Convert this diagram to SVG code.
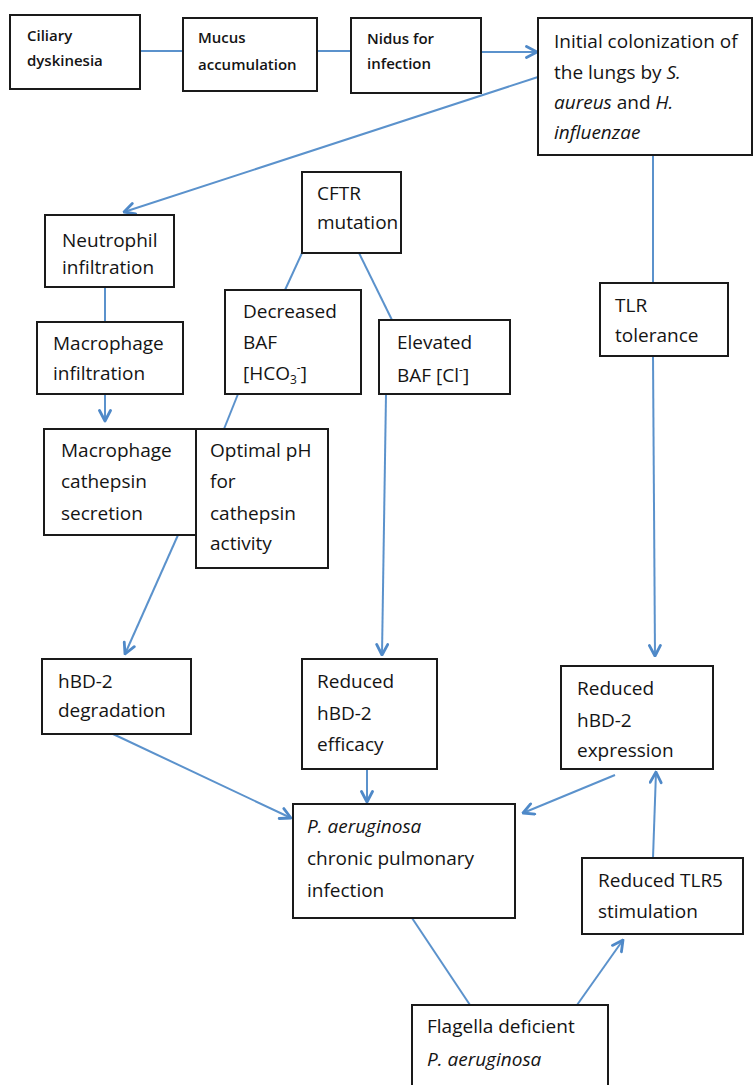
<svg xmlns="http://www.w3.org/2000/svg" width="755" height="1085" viewBox="0 0 755 1085">
<style>
.box{fill:#fff;stroke:#1a1a1a;stroke-width:2}
.t{font-family:"Open Sans","Noto Sans",sans-serif;font-size:19px;fill:#141414}
.s{font-family:"Open Sans","Noto Sans",sans-serif;font-size:15px;font-weight:600;fill:#141414}
.i{font-style:italic}
.c{fill:none;stroke:#5b92cc;stroke-width:2}
.a{fill:none;stroke:#5b92cc;stroke-width:2;marker-end:url(#ah)}
</style>
<defs>
<marker id="ah" viewBox="0 0 14 14" refX="12.5" refY="7" markerWidth="14" markerHeight="14" orient="auto" markerUnits="userSpaceOnUse">
<path d="M2,1.5 L12.5,7 L2,12.5" fill="none" stroke="#4f89c8" stroke-width="2.8" stroke-linecap="round" stroke-linejoin="round"/>
</marker>
</defs>
<rect width="755" height="1085" fill="#fff"/>
<g id="connectors">
<line class="c" x1="140" y1="51" x2="183" y2="51"/>
<line class="c" x1="317" y1="51" x2="351" y2="51"/>
<line class="a" x1="481" y1="52" x2="537" y2="52"/>
<line class="a" x1="538" y1="77" x2="124" y2="212"/>
<line class="c" x1="653" y1="155" x2="653" y2="283"/>
<line class="a" x1="653" y1="356" x2="655" y2="656"/>
<line class="c" x1="105" y1="287" x2="105" y2="322"/>
<line class="a" x1="105" y1="394" x2="105" y2="421"/>
<line class="c" x1="302" y1="253" x2="285" y2="290"/>
<line class="c" x1="359" y1="253" x2="392" y2="320"/>
<line class="c" x1="238" y1="394" x2="224" y2="429"/>
<line class="a" x1="386" y1="394" x2="382" y2="655"/>
<line class="a" x1="178" y1="535" x2="125" y2="654"/>
<line class="a" x1="113" y1="734" x2="291" y2="818"/>
<line class="a" x1="367" y1="769" x2="367" y2="802"/>
<line class="a" x1="615" y1="775" x2="523" y2="813"/>
<line class="a" x1="653" y1="858" x2="656" y2="772"/>
<line class="c" x1="412" y1="918" x2="470" y2="1005"/>
<line class="a" x1="577" y1="1005" x2="623" y2="940"/>
</g>
<g id="ciliary">
<rect class="box" x="10" y="15" width="130" height="74"/>
<text class="s" x="27" y="41">Ciliary</text>
<text class="s" x="27" y="66">dyskinesia</text>
</g>
<g id="mucus">
<rect class="box" x="183" y="18" width="134" height="73"/>
<text class="s" x="198" y="43">Mucus</text>
<text class="s" x="198" y="70">accumulation</text>
</g>
<g id="nidus">
<rect class="box" x="351" y="18" width="130" height="75"/>
<text class="s" x="367" y="44">Nidus for</text>
<text class="s" x="367" y="69">infection</text>
</g>
<g id="initial">
<rect class="box" x="538" y="18" width="214" height="137"/>
<text class="t" x="554" y="48">Initial colonization of</text>
<text class="t" x="554" y="79">the lungs by <tspan class="i">S.</tspan></text>
<text class="t" x="554" y="109"><tspan class="i">aureus</tspan> and <tspan class="i">H.</tspan></text>
<text class="t" x="554" y="139"><tspan class="i">influenzae</tspan></text>
</g>
<g id="cftr">
<rect class="box" x="302" y="172" width="99" height="81"/>
<text class="t" x="317" y="200">CFTR</text>
<text class="t" x="317" y="229">mutation</text>
</g>
<g id="neutrophil">
<rect class="box" x="45" y="215" width="129" height="72"/>
<text class="t" x="62" y="247">Neutrophil</text>
<text class="t" x="62" y="274">infiltration</text>
</g>
<g id="tlr">
<rect class="box" x="600" y="283" width="128" height="73"/>
<text class="t" x="615" y="312">TLR</text>
<text class="t" x="615" y="342">tolerance</text>
</g>
<g id="decreased">
<rect class="box" x="225" y="290" width="136" height="104"/>
<text class="t" x="243" y="318">Decreased</text>
<text class="t" x="243" y="349">BAF</text>
<text class="t" x="243" y="380">[HCO<tspan font-size="12" dy="4">3</tspan><tspan font-size="12" dy="-12">-</tspan><tspan dy="8">]</tspan></text>
</g>
<g id="elevated">
<rect class="box" x="379" y="320" width="131" height="74"/>
<text class="t" x="397" y="349">Elevated</text>
<text class="t" x="397" y="382">BAF [Cl<tspan font-size="12" dy="-8">-</tspan><tspan dy="8">]</tspan></text>
</g>
<g id="macro-infil">
<rect class="box" x="37" y="322" width="146" height="72"/>
<text class="t" x="53" y="350">Macrophage</text>
<text class="t" x="53" y="380">infiltration</text>
</g>
<g id="macro-cath">
<rect class="box" x="44" y="429" width="152" height="106"/>
<text class="t" x="61" y="457">Macrophage</text>
<text class="t" x="61" y="488">cathepsin</text>
<text class="t" x="61" y="520">secretion</text>
</g>
<g id="optimal">
<rect class="box" x="196" y="429" width="132" height="139"/>
<text class="t" x="210" y="457">Optimal pH</text>
<text class="t" x="210" y="488">for</text>
<text class="t" x="210" y="520">cathepsin</text>
<text class="t" x="210" y="550">activity</text>
</g>
<g id="hbd-deg">
<rect class="box" x="42" y="659" width="149" height="75"/>
<text class="t" x="58" y="688">hBD-2</text>
<text class="t" x="58" y="717">degradation</text>
</g>
<g id="hbd-eff">
<rect class="box" x="302" y="659" width="135" height="110"/>
<text class="t" x="317" y="688">Reduced</text>
<text class="t" x="317" y="720">hBD-2</text>
<text class="t" x="317" y="751">efficacy</text>
</g>
<g id="hbd-exp">
<rect class="box" x="561" y="666" width="152" height="103"/>
<text class="t" x="577" y="695">Reduced</text>
<text class="t" x="577" y="727">hBD-2</text>
<text class="t" x="577" y="757">expression</text>
</g>
<g id="pa-chronic">
<rect class="box" x="293" y="804" width="222" height="114"/>
<text class="t" x="307" y="833"><tspan class="i">P. aeruginosa</tspan></text>
<text class="t" x="307" y="865">chronic pulmonary</text>
<text class="t" x="307" y="897">infection</text>
</g>
<g id="tlr5">
<rect class="box" x="582" y="858" width="161" height="76"/>
<text class="t" x="598" y="887">Reduced TLR5</text>
<text class="t" x="598" y="918">stimulation</text>
</g>
<g id="flagella">
<rect class="box" x="412" y="1005" width="196" height="90"/>
<text class="t" x="427" y="1033">Flagella deficient</text>
<text class="t" x="427" y="1066"><tspan class="i">P. aeruginosa</tspan></text>
</g>
</svg>
